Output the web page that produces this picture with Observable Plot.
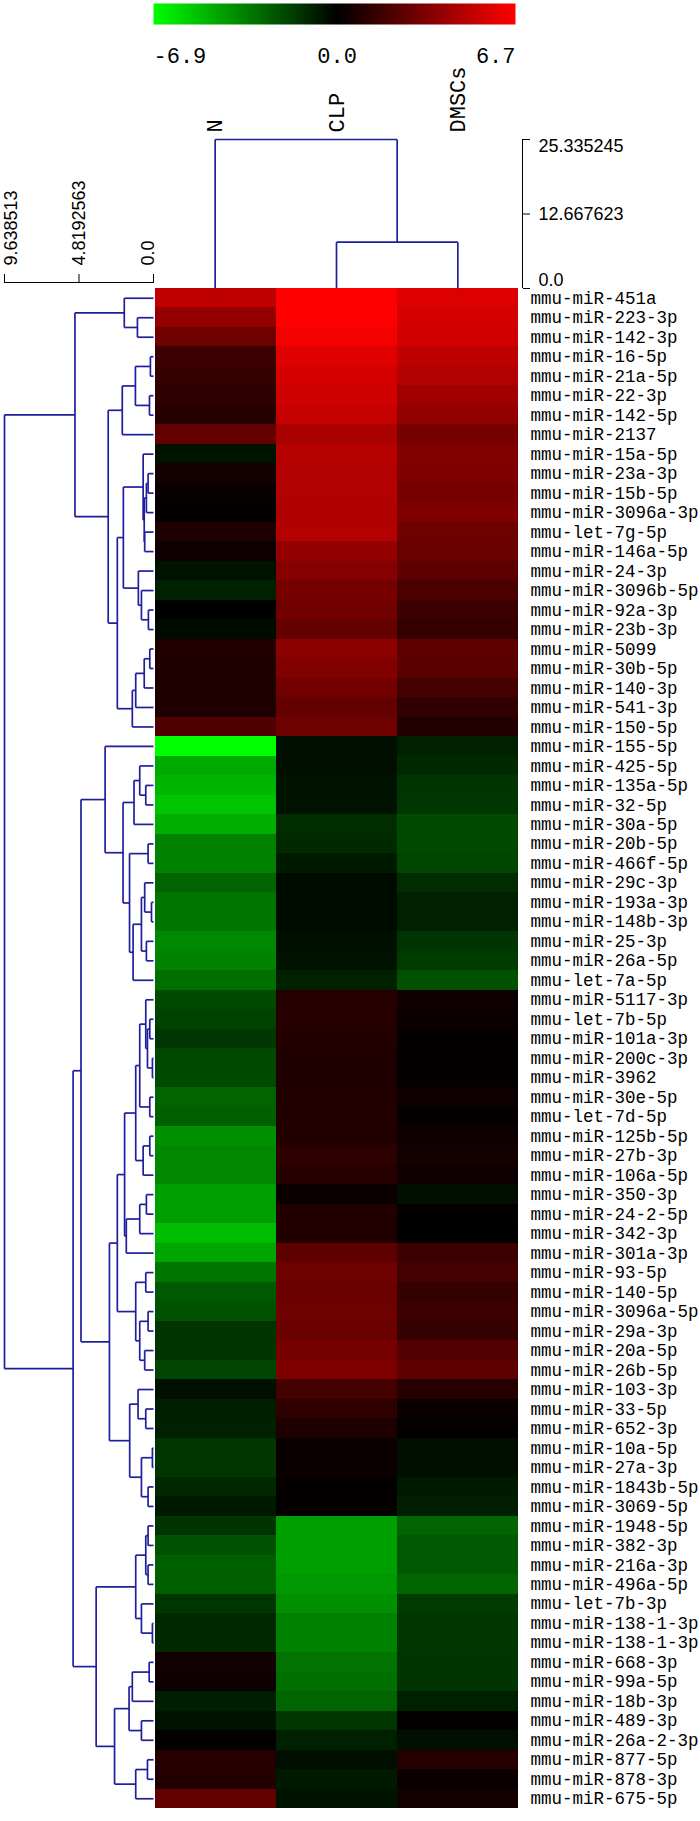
<!DOCTYPE html>
<html><head><meta charset="utf-8">
<script src="https://cdn.jsdelivr.net/npm/d3@7"></script>
<script src="https://cdn.jsdelivr.net/npm/@observablehq/plot@0.6"></script>
<style>
html,body{margin:0;padding:0;background:#fff;}
#chart{position:relative;width:700px;height:1821px;overflow:hidden;background:#fff;}
#chart svg{position:absolute;left:0;top:0;background:transparent;}
</style></head><body><div id="chart"></div>
<script>
// ---------- data ----------
const columns = ["N", "CLP", "DMSCs"];
const rowLabels = [
"mmu-miR-451a","mmu-miR-223-3p","mmu-miR-142-3p","mmu-miR-16-5p","mmu-miR-21a-5p","mmu-miR-22-3p","mmu-miR-142-5p","mmu-miR-2137",
"mmu-miR-15a-5p","mmu-miR-23a-3p","mmu-miR-15b-5p","mmu-miR-3096a-3p","mmu-let-7g-5p","mmu-miR-146a-5p","mmu-miR-24-3p","mmu-miR-3096b-5p",
"mmu-miR-92a-3p","mmu-miR-23b-3p","mmu-miR-5099","mmu-miR-30b-5p","mmu-miR-140-3p","mmu-miR-541-3p","mmu-miR-150-5p","mmu-miR-155-5p",
"mmu-miR-425-5p","mmu-miR-135a-5p","mmu-miR-32-5p","mmu-miR-30a-5p","mmu-miR-20b-5p","mmu-miR-466f-5p","mmu-miR-29c-3p","mmu-miR-193a-3p",
"mmu-miR-148b-3p","mmu-miR-25-3p","mmu-miR-26a-5p","mmu-let-7a-5p","mmu-miR-5117-3p","mmu-let-7b-5p","mmu-miR-101a-3p","mmu-miR-200c-3p",
"mmu-miR-3962","mmu-miR-30e-5p","mmu-let-7d-5p","mmu-miR-125b-5p","mmu-miR-27b-3p","mmu-miR-106a-5p","mmu-miR-350-3p","mmu-miR-24-2-5p",
"mmu-miR-342-3p","mmu-miR-301a-3p","mmu-miR-93-5p","mmu-miR-140-5p","mmu-miR-3096a-5p","mmu-miR-29a-3p","mmu-miR-20a-5p","mmu-miR-26b-5p",
"mmu-miR-103-3p","mmu-miR-33-5p","mmu-miR-652-3p","mmu-miR-10a-5p","mmu-miR-27a-3p","mmu-miR-1843b-5p","mmu-miR-3069-5p","mmu-miR-1948-5p",
"mmu-miR-382-3p","mmu-miR-216a-3p","mmu-miR-496a-5p","mmu-let-7b-3p","mmu-miR-138-1-3p","mmu-miR-138-1-3p","mmu-miR-668-3p","mmu-miR-99a-5p",
"mmu-miR-18b-3p","mmu-miR-489-3p","mmu-miR-26a-2-3p","mmu-miR-877-5p","mmu-miR-878-3p","mmu-miR-675-5p"];

const valuesN = [5.0,3.9,2.9,1.6,1.4,1.2,1.0,2.6,-0.5,0.5,0.2,0.1,0.8,0.4,-0.5,-0.9,0.0,-0.3,0.9,0.8,0.8,0.8,2.1,
 -6.9,-4.6,-4.9,-5.3,-4.7,-3.5,-3.5,-2.7,-3.2,-3.2,-3.7,-3.5,-3.0,
 -2.0,-1.8,-1.5,-2.0,-2.0,-2.7,-2.6,-3.9,-3.7,-3.7,-4.3,-4.3,-5.1,-4.5,
 -3.2,-2.4,-2.2,-1.4,-1.4,-1.9,-0.4,-0.8,-0.9,-1.5,-1.5,-1.1,-0.7,
 -1.4,-2.2,-2.6,-2.6,-1.5,-1.1,-1.1,0.5,0.4,-0.8,-0.5,0.1,1.0,0.9,2.6];
const valuesCLP = [6.7,6.7,6.4,5.9,5.6,5.4,5.2,4.5,4.8,4.7,4.7,4.6,4.7,3.9,3.5,3.1,3.0,2.6,3.7,3.4,3.0,2.6,2.9,
 -0.4,-0.4,-0.5,-0.5,-1.2,-1.1,-0.7,-0.3,-0.3,-0.3,-0.4,-0.5,-0.9,
 1.0,1.0,0.9,0.8,0.8,0.9,0.9,0.9,1.2,1.0,0.3,0.9,0.9,2.5,
 2.9,2.8,2.9,2.8,3.1,3.3,1.8,1.2,0.8,0.3,0.3,0.1,0.1,
 -4.3,-4.3,-4.3,-4.1,-3.9,-3.5,-3.5,-3.1,-3.0,-2.7,-1.5,-0.9,-0.4,-0.7,-0.5];
const valuesDMSCs = [5.8,5.6,5.5,5.0,4.7,4.2,3.9,3.1,3.4,3.3,3.1,3.3,2.9,2.8,2.5,2.0,1.6,1.4,2.5,2.4,1.8,1.3,0.9,
 -0.9,-1.1,-1.4,-1.5,-2.0,-2.0,-1.9,-1.2,-0.9,-0.9,-1.4,-1.6,-2.2,
 0.4,0.3,0.1,0.1,0.1,0.4,0.1,0.4,0.5,0.4,-0.4,0.1,0.0,1.6,
 1.8,1.4,1.6,1.4,2.2,2.5,1.0,0.3,0.1,-0.4,-0.4,-0.7,-0.8,
 -2.7,-2.4,-2.4,-2.7,-1.6,-1.5,-1.5,-1.4,-1.4,-0.9,0.1,-0.4,1.0,0.3,0.5];

const colorDomain = [-6.9, 0, 6.7];
const colorRange = ["#00ff00", "#000000", "#ff0000"];
const colorbarLabels = ["-6.9", "0.0", "6.7"];

// row dendrogram: [height, left, right], leaves = row index
const rowTree = [9.638513,
  [5.08,
    [1.89, 0, [1.04, 1, 2]],
    [2.93,
      [2.02, [1.17, [0.2, 3, 4], [0.26, 5, 6]], 7],
      [2.34,
        [1.95,
          [0.67, 8, [0.6, [0.46, [0.35, 9, 10], 11], [0.57, 12, 13]]],
          [0.98, 14, [0.78, 15, [0.33, 16, 17]]]],
        [1.37, [1.15, [0.6, [0.24, 18, 19], 20], 21], 22]]]],
  [5.2,
    [4.69,
      [3.13, 23,
        [1.97,
          [1.26, [0.89, 24, [0.5, 25, 26]], 27],
          [1.55, [0.35, 28, 29], [1.32, [0.78, [0.57, 30, [0.13, 31, 32]], [0.46, 33, 34]], 35]]]],
      [2.85,
        [2.34,
          [1.87,
            [1.15, [0.89, [0.5, 36, [0.39, [0.24, 37, 38], [0.07, 39, 40]]], [0.24, 41, 42]], [0.67, [0.24, 43, 44], 45]],
            [1.76, [0.89, [0.46, 46, 47], 48], 49]],
          [1.15, [0.5, 50, 51], [0.89, [0.35, 52, 53], [0.57, 54, 55]]]],
        [1.54, [1.0, 56, [0.5, 57, 58]], [0.78, [0.07, 59, 60], [0.35, 61, 62]]]]],
    [3.71,
      [1.15, [0.5, [0.35, 63, 64], [0.35, 65, 66]], [0.78, 67, [0.07, 68, 69]]],
      [2.52, [1.58, [1.37, [0.28, 70, 71], 72], [0.78, 73, 74]], [1.15, [0.39, 75, 76], 77]]]]];
const rowAxisTicks = [9.638513, 4.8192563, 0];
const rowAxisLabels = ["9.638513", "4.8192563", "0.0"];

const colTree = [25.335245, 0, [7.87, 1, 2]];
const colAxisTicks = [25.335245, 12.667623, 0];
const colAxisLabels = ["25.335245", "12.667623", "0.0"];

// ---------- helpers ----------
function segments(tree) {
  const segs = [];
  (function walk(node) {
    if (typeof node === "number") return {h: 0, p: node + 0.5};
    const [h, l, r] = node;
    const a = walk(l), b = walk(r);
    segs.push({h1: h, p1: a.p, h2: h, p2: b.p});
    segs.push({h1: h, p1: a.p, h2: a.h, p2: a.p});
    segs.push({h1: h, p1: b.p, h2: b.h, p2: b.p});
    return {h, p: (a.p + b.p) / 2};
  })(tree);
  return segs;
}
const rowSegs = segments(rowTree);
const colSegs = segments(colTree);

const cells = [];
rowLabels.forEach((name, i) => {
  cells.push({row: i, col: "N", value: valuesN[i]});
  cells.push({row: i, col: "CLP", value: valuesCLP[i]});
  cells.push({row: i, col: "DMSCs", value: valuesDMSCs[i]});
});

const W = 700, H = 1821;
const mono = "'Liberation Mono', 'DejaVu Sans Mono', monospace";
const sans = "'Liberation Sans', Arial, sans-serif";
const lineColor = "#1f1f9e";
const colorOpt = {type: "linear", domain: colorDomain, range: colorRange, interpolate: "rgb"};
const chart = document.getElementById("chart");

// heatmap + row labels
chart.append(Plot.plot({
  width: W, height: H, marginLeft: 154, marginRight: W - 518, marginTop: 288, marginBottom: H - 1808,
  style: {background: "transparent"},
  x: {domain: columns, axis: null, padding: 0},
  y: {domain: d3.range(rowLabels.length), axis: null, padding: 0},
  color: colorOpt,
  marks: [
    Plot.cell(cells, {x: "col", y: "row", fill: "value", inset: 0, shapeRendering: "crispEdges"}),
    Plot.text(rowLabels, {y: (d, i) => i, text: d => d, frameAnchor: "right", dx: 12, textAnchor: "start",
      fontFamily: mono, fontSize: 17.5, fill: "#000"})
  ]
}));

// row dendrogram + axis
const rowAx = (i, anchor) => Plot.text([rowAxisTicks[i]], {x: d => d, text: [rowAxisLabels[i]], frameAnchor: "top",
  dy: -17, rotate: -90, textAnchor: "start", lineAnchor: anchor, fontFamily: sans, fontSize: 18, fill: "#000"});
chart.append(Plot.plot({
  width: W, height: H, marginLeft: 4, marginRight: W - 152, marginTop: 282, marginBottom: H - 1808,
  style: {background: "transparent"},
  x: {domain: [rowTree[0], 0], range: [4, 153], axis: null},
  y: {domain: [0, rowLabels.length], range: [288, 1808], axis: null},
  marks: [
    Plot.link(rowSegs, {x1: "h1", y1: "p1", x2: "h2", y2: "p2", stroke: lineColor, strokeWidth: 1.7}),
    Plot.frame({anchor: "top", stroke: "#000"}),
    Plot.axisX(rowAxisTicks, {anchor: "top", tickSize: 9, tickFormat: () => "", stroke: "#000"}),
    rowAx(0, "top"), rowAx(1, "middle"), rowAx(2, "bottom")
  ]
}));

// column dendrogram + axis + column labels
const colAxDy = [0, 0, -3];
const colAx = (i, anchor) => Plot.text([colAxisTicks[i]], {y: d => d, text: [colAxisLabels[i]], frameAnchor: "right",
  dx: 16, dy: colAxDy[i], textAnchor: "start", lineAnchor: anchor, fontFamily: sans, fontSize: 18, fill: "#000"});
chart.append(Plot.plot({
  width: W, height: H, marginLeft: 154, marginRight: W - 522, marginTop: 139, marginBottom: H - 287,
  style: {background: "transparent"},
  x: {domain: [0, columns.length], range: [154, 518], axis: null},
  y: {domain: [0, colTree[0]], range: [288, 139], axis: null},
  marks: [
    Plot.link(colSegs, {x1: "p1", y1: "h1", x2: "p2", y2: "h2", stroke: lineColor, strokeWidth: 1.7}),
    Plot.frame({anchor: "right", stroke: "#000"}),
    Plot.axisY(colAxisTicks, {anchor: "right", tickSize: 7, tickFormat: () => "", stroke: "#000"}),
    colAx(0, "top"), colAx(1, "middle"), colAx(2, "bottom"),
    Plot.text(columns, {x: (d, i) => i + 0.5, text: d => d, frameAnchor: "top", dy: -7, rotate: -90,
      textAnchor: "start", lineAnchor: "middle", fontFamily: mono, fontSize: 22, fill: "#000"})
  ]
}));

// colour bar
const cbAnchor = ["start", "middle", "end"];
chart.append(Plot.plot({
  width: W, height: 80, marginLeft: 153, marginRight: W - 515, marginTop: 3, marginBottom: 80 - 24,
  style: {background: "transparent"},
  x: {domain: [colorDomain[0], colorDomain[2]], axis: null},
  y: {domain: [0, 1], axis: null},
  color: colorOpt,
  marks: [
    Plot.raster({x1: colorDomain[0], x2: colorDomain[2], y1: 0, y2: 1, fill: (x, y) => x, pixelSize: 1}),
    ...colorbarLabels.map((t, i) => Plot.text([colorDomain[i]], {x: d => d, text: [t], frameAnchor: "bottom",
      dy: 31, textAnchor: cbAnchor[i], lineAnchor: "middle", fontFamily: mono, fontSize: 22, letterSpacing: -1.5, fill: "#000"}))
  ]
}));
</script></body></html>
